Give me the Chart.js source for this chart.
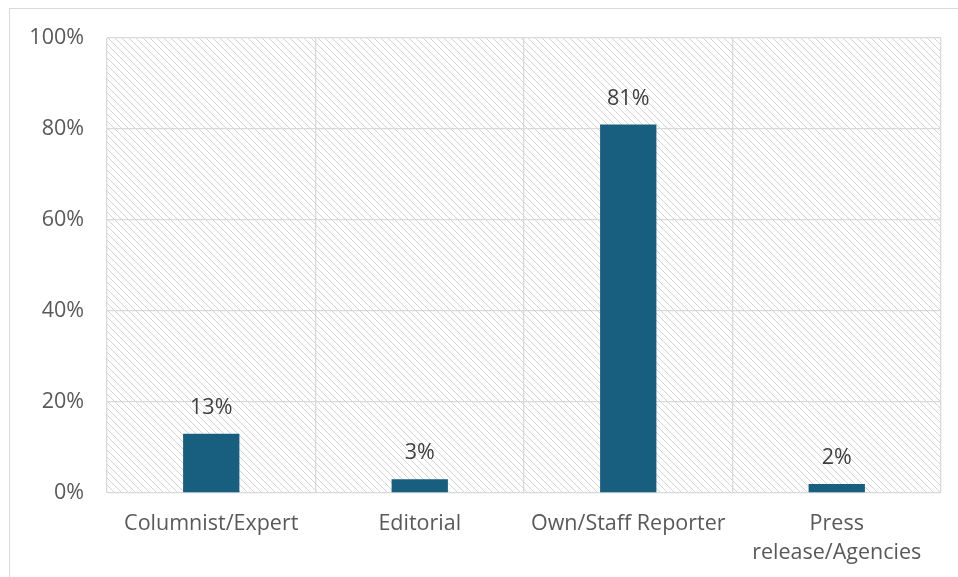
<!DOCTYPE html>
<html>
<head>
<meta charset="utf-8">
<script src="https://cdn.jsdelivr.net/npm/chart.js@4/dist/chart.umd.min.js"></script>
<style>
  html, body { margin: 0; padding: 0; background: #fff; }
  #wrap { width: 958px; height: 577px; position: relative; }
</style>
</head>
<body>
<div id="wrap"><canvas id="c" width="958" height="577"></canvas></div>
<script>
const categories = ["Columnist/Expert", "Editorial", "Own/Staff Reporter", ["Press", "release/Agencies"]];
const shares = [0.13, 0.03, 0.81, 0.02];
const yTicks = [0, 0.2, 0.4, 0.6, 0.8, 1.0];

const FONT = "'Open Sans', 'Noto Sans', sans-serif";

// diagonal hatch tile for the plot background
function makeHatch() {
  const s = 7;
  const t = document.createElement('canvas');
  t.width = s; t.height = s;
  const g = t.getContext('2d');
  g.fillStyle = '#ffffff';
  g.fillRect(0, 0, s, s);
  g.strokeStyle = '#d4d4d4';
  g.lineWidth = 1;
  g.beginPath();
  g.moveTo(-1, -1); g.lineTo(s + 1, s + 1);
  g.moveTo(-1, s - 1); g.lineTo(1, s + 1);
  g.moveTo(s - 1, -1); g.lineTo(s + 1, 1);
  g.stroke();
  return g.createPattern(t, 'repeat');
}

const framePlugin = {
  id: 'frame',
  beforeDraw(chart) {
    const ctx = chart.ctx;
    const a = chart.chartArea;
    ctx.save();
    ctx.fillStyle = '#ffffff';
    ctx.fillRect(0, 0, chart.width, chart.height);
    ctx.strokeStyle = '#d9d9d9';
    ctx.lineWidth = 1;
    ctx.strokeRect(9.5, 8.5, chart.width + 10, chart.height + 10);
    ctx.fillStyle = makeHatch();
    ctx.fillRect(a.left, a.top, a.right - a.left, a.bottom - a.top);
    ctx.restore();
  }
};

const valueLabels = {
  id: 'valueLabels',
  afterDatasetsDraw(chart) {
    const ctx = chart.ctx;
    const meta = chart.getDatasetMeta(0);
    ctx.save();
    ctx.font = '21.5px ' + FONT;
    ctx.fillStyle = '#404040';
    ctx.textAlign = 'center';
    ctx.textBaseline = 'middle';
    meta.data.forEach((bar, i) => {
      ctx.fillText(Math.round(shares[i] * 100) + '%', bar.x, bar.y - 26);
    });
    ctx.restore();
  }
};

new Chart(document.getElementById('c'), {
  type: 'bar',
  data: {
    labels: categories,
    datasets: [{
      data: shares,
      backgroundColor: '#175e7f',
      categoryPercentage: 0.27,
      barPercentage: 1.0
    }]
  },
  options: {
    responsive: false,
    animation: false,
    layout: { padding: { left: 0, right: 17, top: 38, bottom: 0 } },
    plugins: { legend: { display: false }, tooltip: { enabled: false } },
    scales: {
      x: {
        grid: { color: '#d9d9d9', offset: true, drawTicks: false, lineWidth: 1.3 },
        border: { display: false },
        ticks: {
          color: '#595959',
          font: { size: 21.5, family: FONT, lineHeight: 1.33 },
          padding: 17,
          maxRotation: 0
        },
        afterFit(scale) { scale.height = 84; }
      },
      y: {
        min: 0, max: 1,
        afterBuildTicks(scale) { scale.ticks = yTicks.map(v => ({ value: v })); },
        grid: { color: '#d9d9d9', drawTicks: false, lineWidth: 1.3 },
        border: { display: false },
        ticks: {
          color: '#595959',
          font: { size: 21.5, family: FONT },
          padding: 23,
          callback: v => Math.round(v * 100) + '%'
        },
        afterFit(scale) { scale.width = 107; }
      }
    }
  },
  plugins: [framePlugin, valueLabels]
});
</script>
</body>
</html>
